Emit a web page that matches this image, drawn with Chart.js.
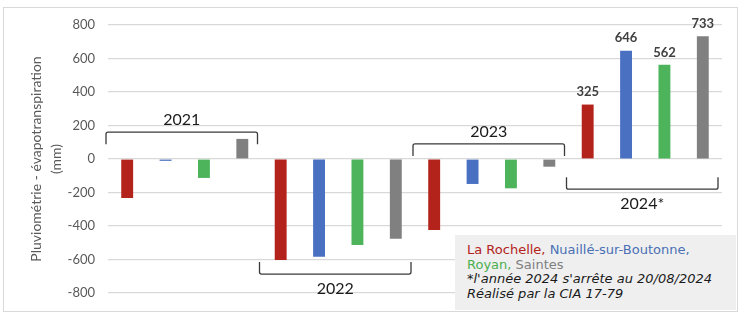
<!DOCTYPE html>
<html>
<head>
<meta charset="utf-8">
<script src="https://cdn.jsdelivr.net/npm/chart.js@4.4.1/dist/chart.umd.min.js"></script>
<style>
	html, body { margin: 0; padding: 0; background: #fff; }
	#wrap { position: relative; width: 747px; height: 320px; }
	#frame { position: absolute; left: 3px; top: 7px; width: 735px; height: 305px; border: 1px solid #d9d9d9; box-sizing: border-box; pointer-events: none; }
	#note {
		position: absolute; left: 455px; top: 235px; width: 281px; height: 75px;
		background: #efefef; box-sizing: border-box; padding: 8px 0 0 12px;
		font-family: "DejaVu Sans", Verdana, sans-serif; font-size: 13px; line-height: 14.7px; color: #1a1a1a;
		white-space: nowrap;
	}
	#note .it { font-style: italic; }
</style>
</head>
<body>
<div id="wrap">
	<canvas id="bar-chart" width="747" height="320"></canvas>
	<div id="frame"></div>
	<div id="note">
		<span style="color:#b3231b">La Rochelle,</span> <span style="color:#4a6fb5">Nuaillé-sur-Boutonne,</span><br>
		<span style="color:#4caf50">Royan,</span> <span style="color:#7f7f7f">Saintes</span><br>
		<span class="it">*l'année 2024 s'arrête au 20/08/2024</span><br>
		<span class="it">Réalisé par la CIA 17-79</span>
	</div>
</div>
<script>
const stations = ['La Rochelle', 'Nuaillé-sur-Boutonne', 'Royan', 'Saintes']
const stationColors = ['#b3231b', '#4a70c2', '#4db45b', '#808080']
const years = ['2021', '2022', '2023', '2024*']
const values2021 = [-233, -11, -113, 120]
const values2022 = [-603, -583, -513, -476]
const values2023 = [-424, -149, -175, -46]
const values2024 = [325, 646, 562, 733]
const yTicks = [-800, -600, -400, -200, 0, 200, 400, 600, 800]

// where each year's bracket sits (value on y axis) and on which side of its label
const bracketLevel = [160, -687, 90, -180]
const bracketSide = ['top', 'bottom', 'top', 'bottom']

const allValues = [...values2021, ...values2022, ...values2023, ...values2024]
const labels = []
years.forEach(y => stations.forEach(s => labels.push(y + ' ' + s)))
const colors = allValues.map((v, i) => stationColors[i % 4])

const bracketPlugin = {
	id: 'brackets',
	afterDatasetsDraw(chart) {
		const { ctx, scales: { x, y } } = chart
		const step = x.getPixelForValue(1) - x.getPixelForValue(0)
		ctx.save()
		ctx.strokeStyle = '#3a3a3a'
		ctx.lineWidth = 1.3
		ctx.fillStyle = '#1a1a1a'
		ctx.font = '16px Lato'
		ctx.textAlign = 'center'
		ctx.textBaseline = 'middle'
		years.forEach((yr, g) => {
			const x0 = x.getPixelForValue(g * 4) - step / 2 - 2
			const x1 = x.getPixelForValue(g * 4 + 3) + step / 2 - 4
			const yy = y.getPixelForValue(bracketLevel[g])
			const dir = bracketSide[g] === 'top' ? 1 : -1
			ctx.beginPath()
			ctx.moveTo(x0, yy + dir * 12)
			ctx.lineTo(x0, yy + dir * 2)
			ctx.quadraticCurveTo(x0, yy, x0 + 2, yy)
			ctx.lineTo(x1 - 2, yy)
			ctx.quadraticCurveTo(x1, yy, x1, yy + dir * 2)
			ctx.lineTo(x1, yy + dir * 12)
			ctx.stroke()
			const ty = bracketSide[g] === 'top' ? yy - 12 : yy + 15
			ctx.fillText(yr, (x0 + x1) / 2, ty)
		})
		// value labels on the last year
		const meta = chart.getDatasetMeta(0)
		ctx.font = 'bold 13px Lato'
		ctx.fillStyle = '#404040'
		ctx.textBaseline = 'bottom'
		for (let i = 12; i < 16; i++) {
			const bar = meta.data[i]
			ctx.fillText(String(allValues[i]), bar.x, bar.y - 6)
		}
		ctx.restore()
	}
}

const ctx = document.getElementById('bar-chart').getContext('2d')
new Chart(ctx, {
	type: 'bar',
	data: {
		labels,
		datasets: [{
			data: allValues,
			backgroundColor: colors,
			borderWidth: 0,
			barPercentage: 0.31,
			categoryPercentage: 1
		}]
	},
	options: {
		responsive: false,
		animation: false,
		layout: { padding: { left: 3, right: 25, top: 25, bottom: 27 } },
		plugins: { legend: { display: false }, tooltip: { enabled: false } },
		scales: {
			x: { display: false },
			y: {
				min: -800,
				max: 800,
				afterBuildTicks: s => { s.ticks = yTicks.map(v => ({ value: v })) },
				afterFit: s => { s.width = 105 },
				border: { display: false },
				grid: { color: '#d9d9d9', lineWidth: 1.2, drawTicks: false },
				ticks: { color: '#595959', font: { family: 'Lato', size: 13 }, padding: 13 },
				title: {
					display: true,
					text: ['Pluviométrie - évapotranspiration', '(mm)'],
					color: '#595959',
					font: { family: 'Lato', size: 14, lineHeight: 1.45 },
					padding: { top: 23, bottom: 0 }
				}
			}
		}
	},
	plugins: [bracketPlugin]
})
</script>
</body>
</html>
